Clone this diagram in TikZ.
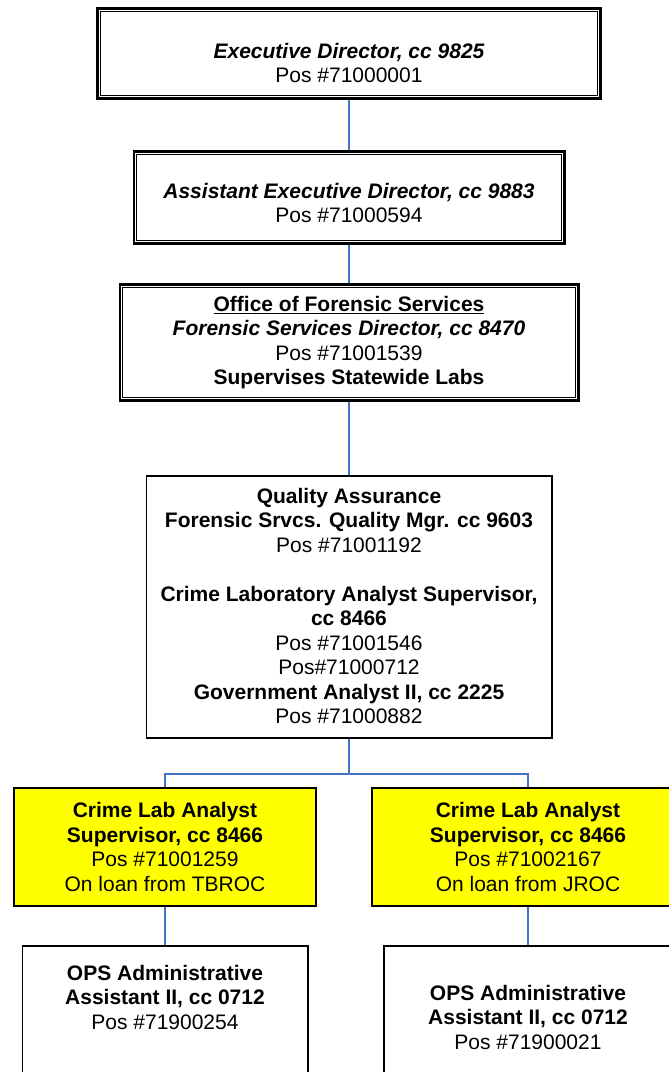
\documentclass[tikz,border=0pt]{standalone}
\usepackage{fontspec}
\setmainfont{Liberation Sans}
\usetikzlibrary{calc}
\definecolor{linkblue}{HTML}{4472C4}
\definecolor{labyellow}{HTML}{FFFF00}
\begin{document}
\begin{tikzpicture}[x=1pt,y=-1pt,
  dbox/.style={draw, line width=2.6pt, inner sep=0pt},
  sbox/.style={draw, line width=1.6pt, inner sep=0pt},
  ybox/.style={sbox, fill=labyellow},
  label/.style={inner sep=0pt, align=center, font=\fontsize{21}{24.5}\selectfont},
  link/.style={draw=linkblue, line width=1.5pt}]
\useasboundingbox (0,0) rectangle (669,1072);

% connectors (drawn first, boxes on top)
\coordinate (fork) at (349,774);

% positions, ranked boxes
\node[dbox, minimum width=503.4pt, minimum height=90.4pt] (b1) at (349,53.5) {};
\node[dbox, minimum width=430.4pt, minimum height=92.4pt] (b2) at (349,197.5) {};
\node[dbox, minimum width=458.4pt, minimum height=116.4pt] (b3) at (349,342.5) {};
\node[sbox, minimum width=405.4pt, minimum height=262.4pt] (b4) at (349,607) {};
\node[ybox, minimum width=302.4pt, minimum height=118.4pt] (yl) at (165,847) {};
\node[ybox, minimum width=312.4pt, minimum height=118.4pt] (yr) at (528,847) {};
\node[sbox, minimum width=285.4pt, minimum height=153.4pt] (bl) at (165,1022.5) {};
\node[sbox, minimum width=288.4pt, minimum height=153.4pt] (br) at (528,1022.5) {};

% inner rule of the double-framed boxes
\foreach \n in {b1,b2,b3}
  \draw[line width=1.2pt] ([xshift=4.2pt,yshift=-4.2pt]\n.north west) rectangle ([xshift=-4.2pt,yshift=4.2pt]\n.south east);

% reporting lines
\draw[link] (b1.south) -- (b2.north);
\draw[link] (b2.south) -- (b3.north);
\draw[link] (b3.south) -- (b4.north);
\draw[link] (b4.south) -- (fork);
\draw[link] (yl.north) |- (fork) -| (yr.north);
\draw[link] (yl.south) -- (bl.north);
\draw[link] (yr.south) -- (br.north);

% texts
\node[label] (t1) at (349,63) {\bfseries\itshape Executive Director, cc 9825\\ Pos \#71000001};
\node[label] (t2) at (349,203) {\bfseries\itshape Assistant Executive Director, cc 9883\\ Pos \#71000594};
\node[label] (t3) at (349,342.5) {\bfseries\underline{Office of Forensic Services}\\
  \bfseries\itshape Forensic Services Director, cc 8470\\ Pos \#71001539\\
  \bfseries Supervises Statewide Labs};
\node[label] (t4) at (349,606) {\bfseries Quality Assurance\\
  \bfseries Forensic Srvcs. Quality Mgr. cc 9603\\ Pos \#71001192\\[24.5pt]
  \bfseries Crime Laboratory Analyst Supervisor,\\ \bfseries cc 8466\\
  Pos \#71001546\\ Pos\#71000712\\
  \bfseries Government Analyst II, cc 2225\\ Pos \#71000882};
\node[label] (t5) at (165,847) {\bfseries Crime Lab Analyst\\ \bfseries Supervisor, cc 8466\\
  Pos \#71001259\\ On loan from TBROC};
\node[label] (t6) at (528,847) {\bfseries Crime Lab Analyst\\ \bfseries Supervisor, cc 8466\\
  Pos \#71002167\\ On loan from JROC};
\node[label] (t7) at (165,997) {\bfseries OPS Administrative\\ \bfseries Assistant II, cc 0712\\ Pos \#71900254};
\node[label] (t8) at (528,1017) {\bfseries OPS Administrative\\ \bfseries Assistant II, cc 0712\\ Pos \#71900021};
\end{tikzpicture}
\end{document}
